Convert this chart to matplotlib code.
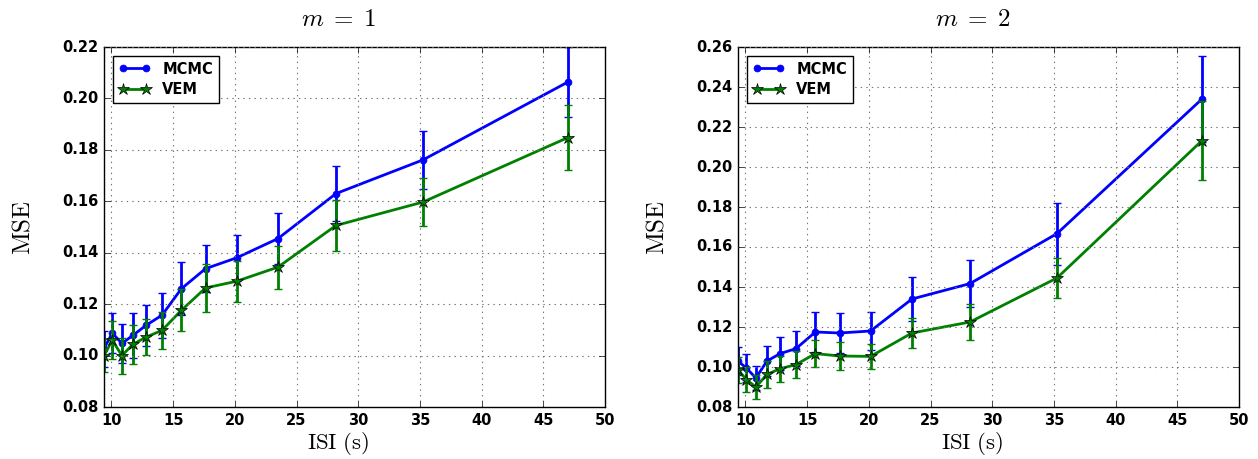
import matplotlib as mpl
mpl.use('Agg')
import matplotlib.pyplot as plt
import numpy as np

plt.style.use('classic')
plt.rcParams['figure.facecolor'] = 'white'
plt.rcParams['savefig.facecolor'] = 'white'
plt.rcParams['font.family'] = 'DejaVu Sans'
plt.rcParams['mathtext.fontset'] = 'cm'

# inter-stimulus intervals (s)
isi = [9.4, 10.07, 10.85, 11.75, 12.82, 14.1, 15.67, 17.63, 20.14, 23.5, 28.2, 35.25, 47.0]

# m = 1
mcmc_m1 = [0.1027, 0.1088, 0.1047, 0.1079, 0.1118, 0.1157, 0.1260, 0.1338, 0.1380, 0.1455, 0.1630, 0.1761, 0.2064]
mcmc_m1_err = [0.0070, 0.0078, 0.0077, 0.0087, 0.0080, 0.0088, 0.0104, 0.0092, 0.0090, 0.0100, 0.0107, 0.0112, 0.0137]
vem_m1 = [0.1000, 0.1060, 0.1000, 0.1044, 0.1072, 0.1098, 0.1176, 0.1263, 0.1289, 0.1344, 0.1506, 0.1597, 0.1848]
vem_m1_err = [0.0065, 0.0074, 0.0070, 0.0076, 0.0071, 0.0071, 0.0082, 0.0092, 0.0079, 0.0084, 0.0100, 0.0095, 0.0126]

# m = 2
mcmc_m2 = [0.1030, 0.0995, 0.0945, 0.1030, 0.1067, 0.1092, 0.1175, 0.1170, 0.1180, 0.1340, 0.1417, 0.1667, 0.2340]
mcmc_m2_err = [0.0070, 0.0072, 0.0058, 0.0075, 0.0083, 0.0088, 0.0098, 0.0100, 0.0095, 0.0110, 0.0118, 0.0155, 0.0217]
vem_m2 = [0.0987, 0.0937, 0.0900, 0.0963, 0.0992, 0.1012, 0.1067, 0.1055, 0.1053, 0.1170, 0.1225, 0.1445, 0.2132]
vem_m2_err = [0.0065, 0.0062, 0.0058, 0.0067, 0.0065, 0.0068, 0.0068, 0.0069, 0.0064, 0.0077, 0.0088, 0.0102, 0.0197]

panels = [
    (r'$m\;=\;1$', mcmc_m1, mcmc_m1_err, vem_m1, vem_m1_err, (0.08, 0.22)),
    (r'$m\;=\;2$', mcmc_m2, mcmc_m2_err, vem_m2, vem_m2_err, (0.08, 0.26)),
]
lefts = [104.0 / 1258, 738.0 / 1258]

fig = plt.figure(figsize=(12.58, 4.59), dpi=100)

for j in range(len(panels)):
    title, mc, mc_err, vm, vm_err, ylim = panels[j]
    ax = fig.add_axes([lefts[j], 52.0 / 459, 501.0 / 1258, 360.0 / 459])

    # error bars first, lines + markers on top (keeps the legend free of bars)
    ax.errorbar(isi, mc, yerr=mc_err, fmt='none', ecolor='b', elinewidth=2, capsize=3, capthick=1)
    ax.plot(isi, mc, color='b', marker='o', markersize=5, mec='b', lw=2, label='MCMC')
    ax.errorbar(isi, vm, yerr=vm_err, fmt='none', ecolor='g', elinewidth=2, capsize=3, capthick=1)
    ax.plot(isi, vm, color='g', marker='*', markersize=9, mec='k', mew=0.5, lw=2, label='VEM')

    ax.set_xlim(9.4, 50)
    ax.set_ylim(ylim)
    yt = np.arange(ylim[0], ylim[1] + 0.001, 0.02)
    ax.set_xticks(np.arange(10, 51, 5))
    ax.set_yticks(yt)
    ax.set_yticklabels(['%.2f' % v for v in yt])
    for lbl in ax.get_xticklabels() + ax.get_yticklabels():
        lbl.set_fontsize(10.5)
        lbl.set_fontweight('bold')
    ax.grid(True, color='0.45', linestyle=':', linewidth=0.8)

    ax.set_title(title, fontsize=18, x=0.468, pad=15)
    ax.set_xlabel(r'$\mathrm{ISI\ (s)}$', fontsize=16.5)
    ax.xaxis.set_label_coords(0.468, -0.065)
    ax.set_ylabel(r'$\mathrm{MSE}$', fontsize=18, labelpad=20)

    ax.legend(loc='upper left', numpoints=2, handlelength=2.2, labelspacing=0.35,
              prop={'weight': 'bold', 'size': 10.5}, borderaxespad=0.6)

plt.savefig('out.png', dpi=100)
